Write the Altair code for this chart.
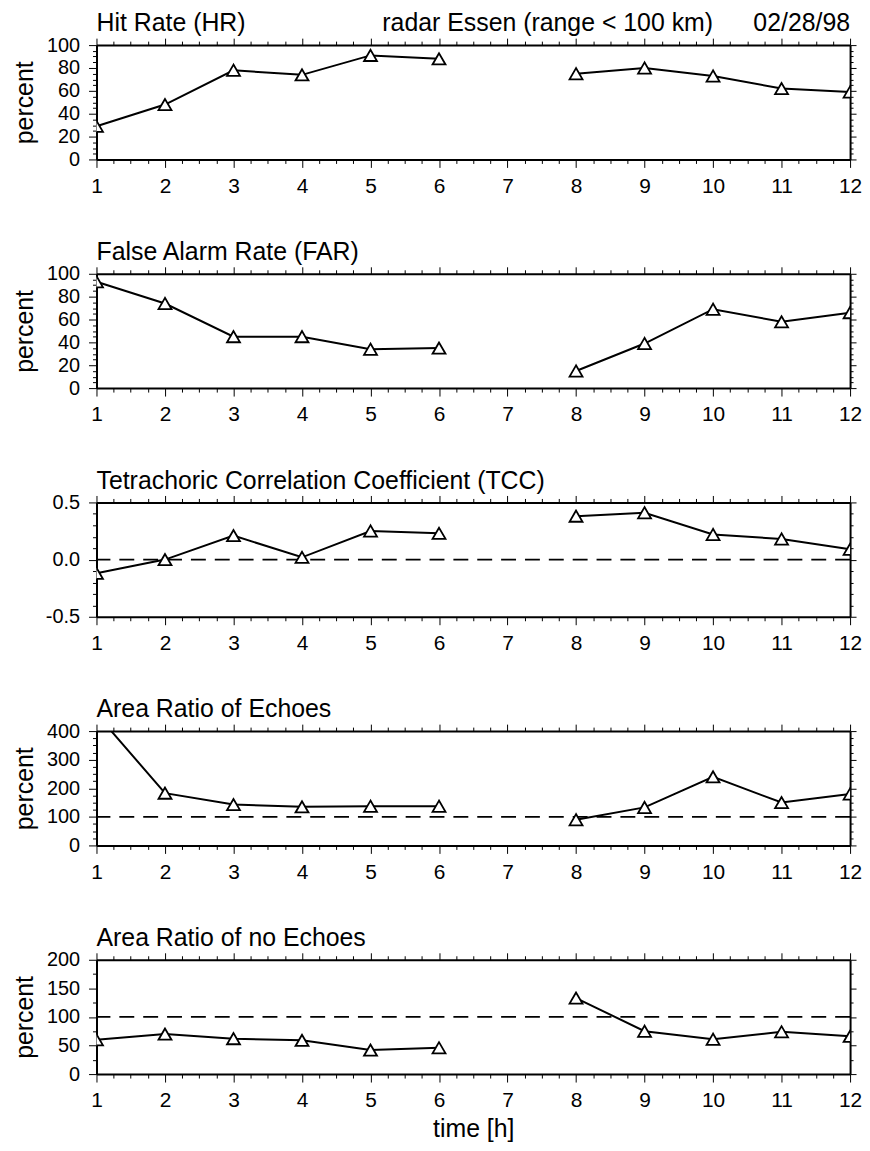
import altair as alt
import numpy as np
import pandas as pd

# ---- data ----
hours = [1, 2, 3, 4, 5, 6, 8, 9, 10, 11, 12]
hit_rate = [29, 48, 78, 74, 91, 88, 75, 80, 73, 62, 59]
false_alarm_rate = [93, 74, 45, 45, 34, 35, 15, 39, 69, 58, 66]
tcc = [-0.12, 0.0, 0.21, 0.02, 0.25, 0.23, 0.38, 0.41, 0.22, 0.18, 0.09]
area_ratio_echoes = [460, 183, 143, 135, 137, 137, 90, 133, 240, 150, 180]
area_ratio_no_echoes = [60, 70, 62, 59, 42, 46, 133, 75, 61, 74, 66]

panel_titles = [
    "Hit Rate (HR)",
    "False Alarm Rate (FAR)",
    "Tetrachoric Correlation Coefficient (TCC)",
    "Area Ratio of Echoes",
    "Area Ratio of no Echoes",
]
panel_values = [hit_rate, false_alarm_rate, tcc, area_ratio_echoes, area_ratio_no_echoes]
y_domains = [[0, 100], [0, 100], [-0.5, 0.5], [0, 400], [0, 200]]
y_major_steps = [20, 20, 0.5, 100, 50]
y_minor_steps = [5, 5, 0.1, 25, 25]
y_formats = [".0f", ".0f", ".1f", ".0f", ".0f"]
y_titles = ["percent", "percent", "", "percent", "percent"]
reference_lines = [None, None, 0.0, 100, 100]
header_texts = ["radar Essen (range < 100 km)", "02/28/98"]
header_hours = [10, 12]
x_title = "time [h]"

FONT = "Liberation Sans"
TEXT_SIZE = 25
PLOT_W = 758
PLOT_H = 115


def test_expr(step):
    return f"abs(datum.value / {step} - round(datum.value / {step})) < 1e-6"


def make_panel(i):
    values = panel_values[i]
    df = pd.DataFrame({
        "hour": hours,
        "value": values,
        "segment": ["a" if h < 7 else "b" for h in hours],
    })
    lo, hi = y_domains[i]
    xs = alt.Scale(domain=[1, 12], nice=False, zero=False)
    ys = alt.Scale(domain=[lo, hi], nice=False, zero=False)

    x_vals = np.round(np.arange(1, 12.0001, 0.25), 4).tolist()
    y_vals = np.round(np.arange(lo, hi + 1e-9, y_minor_steps[i]), 6).tolist()
    xt = test_expr(1)
    yt = test_expr(y_major_steps[i])

    last = i == len(panel_values) - 1
    x_axis = alt.Axis(
        values=x_vals,
        labelExpr=f"{xt} ? format(datum.value, 'd') : ''",
        tickSize={"condition": {"test": xt, "value": 8}, "value": 4},
        labelFlush=False,
        labelOverlap=False,
        labelPadding=8,
        labelFontSize=21,
        title=x_title if last else None,
        titlePadding=6,
        grid=False,
    )
    y_label = (
        f"{yt} ? ((datum.value < 0 ? '-' : '') + "
        f"format(abs(datum.value), '{y_formats[i]}')) : ''"
    )
    y_axis = alt.Axis(
        values=y_vals,
        labelExpr=y_label,
        tickSize={"condition": {"test": yt, "value": 8}, "value": 4},
        labelFlush=False,
        labelOverlap=False,
        labelPadding=9,
        title=y_titles[i] if y_titles[i] else None,
        titlePadding=9,
        grid=False,
    )
    x_top = alt.Axis(
        orient="top", values=x_vals, labels=False, title=None, grid=False,
        tickSize={"condition": {"test": xt, "value": 7}, "value": 4},
    )
    y_right = alt.Axis(
        orient="right", values=y_vals, labels=False, title=None, grid=False,
        tickSize={"condition": {"test": yt, "value": 6}, "value": 3},
    )

    base = alt.Chart(df)
    line = base.mark_line(color="black", strokeWidth=2, clip=True).encode(
        x=alt.X("hour:Q", scale=xs, axis=x_axis),
        y=alt.Y("value:Q", scale=ys, axis=y_axis),
        detail="segment:N",
    )
    pts = base.mark_point(
        shape="triangle-up", size=170, fill="white", filled=True,
        stroke="black", strokeWidth=1.8, opacity=1, clip=True,
    ).encode(
        x=alt.X("hour:Q", scale=xs, axis=None),
        y=alt.Y("value:Q", scale=ys, axis=None),
    )
    frame_axes = base.mark_point(opacity=0).encode(
        x=alt.X("hour:Q", scale=xs, axis=x_top),
        y=alt.Y("value:Q", scale=ys, axis=y_right),
    )
    title_df = pd.DataFrame({"label": [panel_titles[i]]})
    title_text = alt.Chart(title_df).mark_text(
        align="left", baseline="alphabetic", font=FONT, fontSize=TEXT_SIZE,
        color="black",
    ).encode(
        x=alt.value(0),
        y=alt.value(-14),
        text="label:N",
    )

    layers = [line]
    if reference_lines[i] is not None:
        ref_df = pd.DataFrame({"ref": [reference_lines[i]]})
        rule = alt.Chart(ref_df).mark_rule(
            color="black", strokeWidth=1.8, strokeDash=[15, 9]
        ).encode(
            y=alt.Y("ref:Q", scale=ys, axis=None),
        )
        layers.append(rule)
    layers += [pts, frame_axes, title_text]
    if i == 0:
        hdr = pd.DataFrame({"hour": header_hours, "label": header_texts})
        hdr_text = alt.Chart(hdr).mark_text(
            align="right", baseline="alphabetic", font=FONT,
            fontSize=TEXT_SIZE, color="black",
        ).encode(
            x=alt.X("hour:Q", scale=xs, axis=None),
            y=alt.value(-14),
            text="label:N",
        )
        layers.append(hdr_text)

    chart = alt.layer(*layers).resolve_axis(
        x="independent", y="independent"
    ).properties(
        width=PLOT_W,
        height=PLOT_H,
    )
    return chart


panels = [make_panel(i) for i in range(len(panel_values))]

chart = alt.vconcat(*panels, spacing=115, bounds="flush").properties(
    padding={"left": 4, "top": 0, "right": 0, "bottom": 0},
).configure_view(
    stroke=None,
).configure_axis(
    labelFont=FONT, labelFontSize=20, labelColor="black",
    titleFont=FONT, titleFontSize=25, titleFontWeight="normal", titleColor="black",
    domainColor="black", domainWidth=2, tickColor="black", tickWidth=1,
)

chart.save("out.html", embed_options={"renderer": "svg", "actions": False})
